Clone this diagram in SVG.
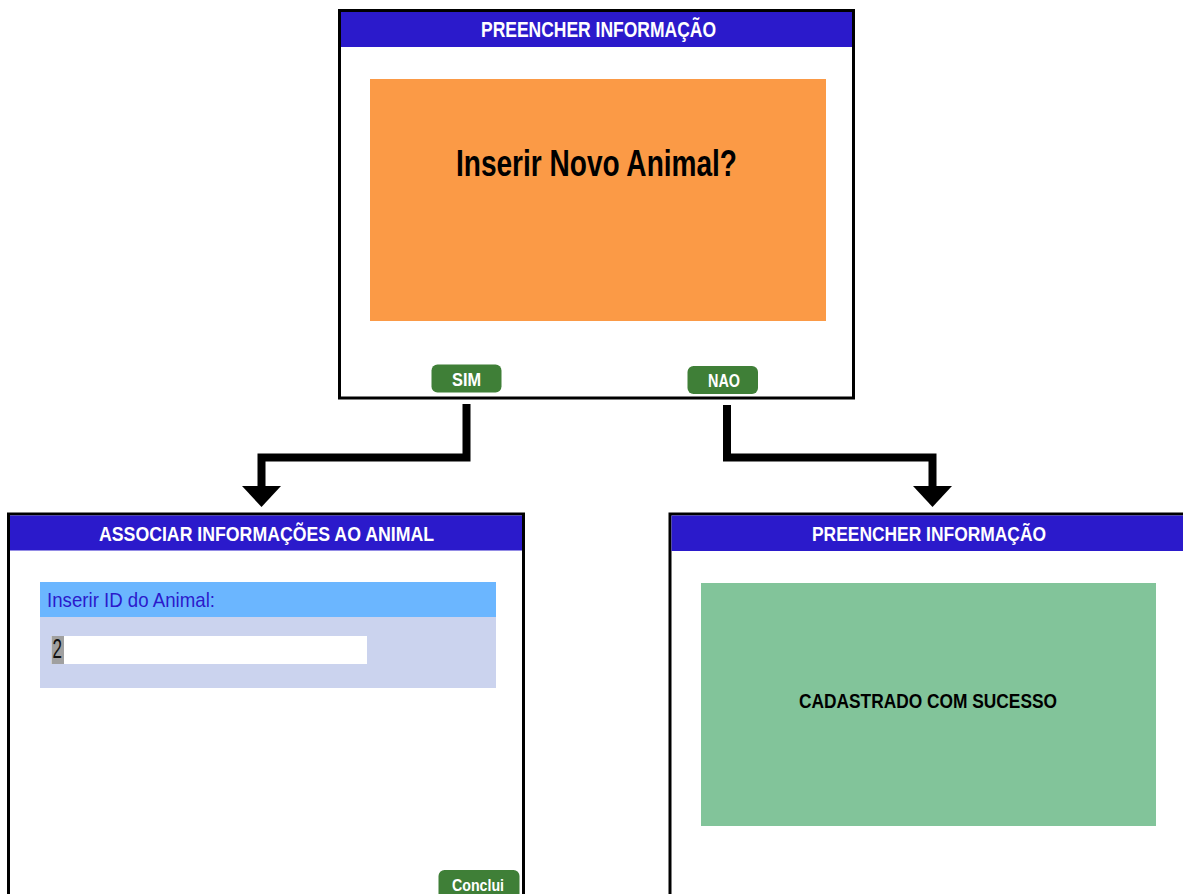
<svg xmlns="http://www.w3.org/2000/svg" width="1183" height="894" viewBox="0 0 1183 894">
  <defs>
    <style>
      .frame { fill: #ffffff; stroke: #000000; stroke-width: 3; }
      .hdr { fill: #2B1ACB; }
      .hdrtxt { font-family: "Liberation Sans", Arial, sans-serif; font-weight: bold; fill: #ffffff; }
      .btn { fill: #3F7F37; }
      .btntxt { font-family: "Liberation Sans", Arial, sans-serif; font-weight: bold; fill: #ffffff; }
      .bold { font-family: "Liberation Sans", Arial, sans-serif; font-weight: bold; fill: #000000; }
      .reg { font-family: "Liberation Sans", Arial, sans-serif; }
      .conn { fill: none; stroke: #000000; stroke-width: 8; stroke-linejoin: miter; stroke-linecap: butt; }
    </style>
    <marker id="arrow" markerUnits="userSpaceOnUse" viewBox="0 0 21 39" refX="0" refY="19.5" markerWidth="21" markerHeight="39" orient="auto">
      <path d="M0,0 L21,19.5 L0,39 Z" fill="#000000"/>
    </marker>
  </defs>
  <rect width="1183" height="894" fill="#ffffff"/>

  <g id="node-top">
    <rect class="frame" x="339.5" y="10.5" width="514" height="387.5"/>
    <rect class="hdr" x="341" y="12" width="511" height="35"/>
    <text class="hdrtxt" x="481" y="36.5" font-size="22" textLength="235" lengthAdjust="spacingAndGlyphs">PREENCHER INFORMAÇÃO</text>
    <rect x="370" y="79" width="456" height="242" fill="#FB9A46"/>
    <text class="bold" x="456" y="176" font-size="37" textLength="281" lengthAdjust="spacingAndGlyphs">Inserir Novo Animal?</text>
    <g id="btn-sim">
      <rect class="btn" x="431.5" y="364.5" width="70" height="28" rx="6"/>
      <text class="btntxt" x="452" y="386" font-size="18" textLength="29" lengthAdjust="spacingAndGlyphs">SIM</text>
    </g>
    <g id="btn-nao">
      <rect class="btn" x="687.5" y="366" width="70.5" height="28" rx="6"/>
      <text class="btntxt" x="708" y="387" font-size="18" textLength="32" lengthAdjust="spacingAndGlyphs">NAO</text>
    </g>
  </g>

  <g id="node-associar">
    <rect class="frame" x="8.5" y="514" width="515" height="400"/>
    <rect class="hdr" x="10" y="515.5" width="512" height="35"/>
    <text class="hdrtxt" x="99" y="541" font-size="21" textLength="335" lengthAdjust="spacingAndGlyphs">ASSOCIAR INFORMAÇÕES AO ANIMAL</text>
    <rect x="40" y="582" width="456" height="35" fill="#6BB6FF"/>
    <rect x="40" y="617" width="456" height="71" fill="#CBD3EE"/>
    <text class="reg" x="47" y="607" font-size="21" fill="#2B1ACB" textLength="168" lengthAdjust="spacingAndGlyphs">Inserir ID do Animal:</text>
    <rect x="51" y="636" width="316" height="28" fill="#ffffff"/>
    <rect x="51.5" y="636" width="12.5" height="28" fill="#A0A0A0"/>
    <text class="reg" x="52.5" y="658" font-size="27" fill="#111111" textLength="9.5" lengthAdjust="spacingAndGlyphs">2</text>
    <g id="btn-conclui">
      <rect class="btn" x="438.5" y="870" width="81" height="34" rx="6"/>
      <text class="btntxt" x="452" y="890.5" font-size="16" textLength="52" lengthAdjust="spacingAndGlyphs">Conclui</text>
    </g>
  </g>

  <g id="node-sucesso">
    <rect class="frame" x="670" y="514" width="530" height="400"/>
    <rect class="hdr" x="671.5" y="515.5" width="512" height="35.5"/>
    <text class="hdrtxt" x="812" y="541" font-size="21" textLength="234" lengthAdjust="spacingAndGlyphs">PREENCHER INFORMAÇÃO</text>
    <rect x="701" y="583" width="455" height="243" fill="#82C49A"/>
    <text class="bold" x="799" y="708" font-size="20" textLength="258" lengthAdjust="spacingAndGlyphs">CADASTRADO COM SUCESSO</text>
  </g>

  <g id="connectors">
    <path class="conn" d="M466.5 404 V457.5 H261.5 V486" marker-end="url(#arrow)"/>
    <path class="conn" d="M727 405 V457.5 H932.5 V486" marker-end="url(#arrow)"/>
  </g>
</svg>
